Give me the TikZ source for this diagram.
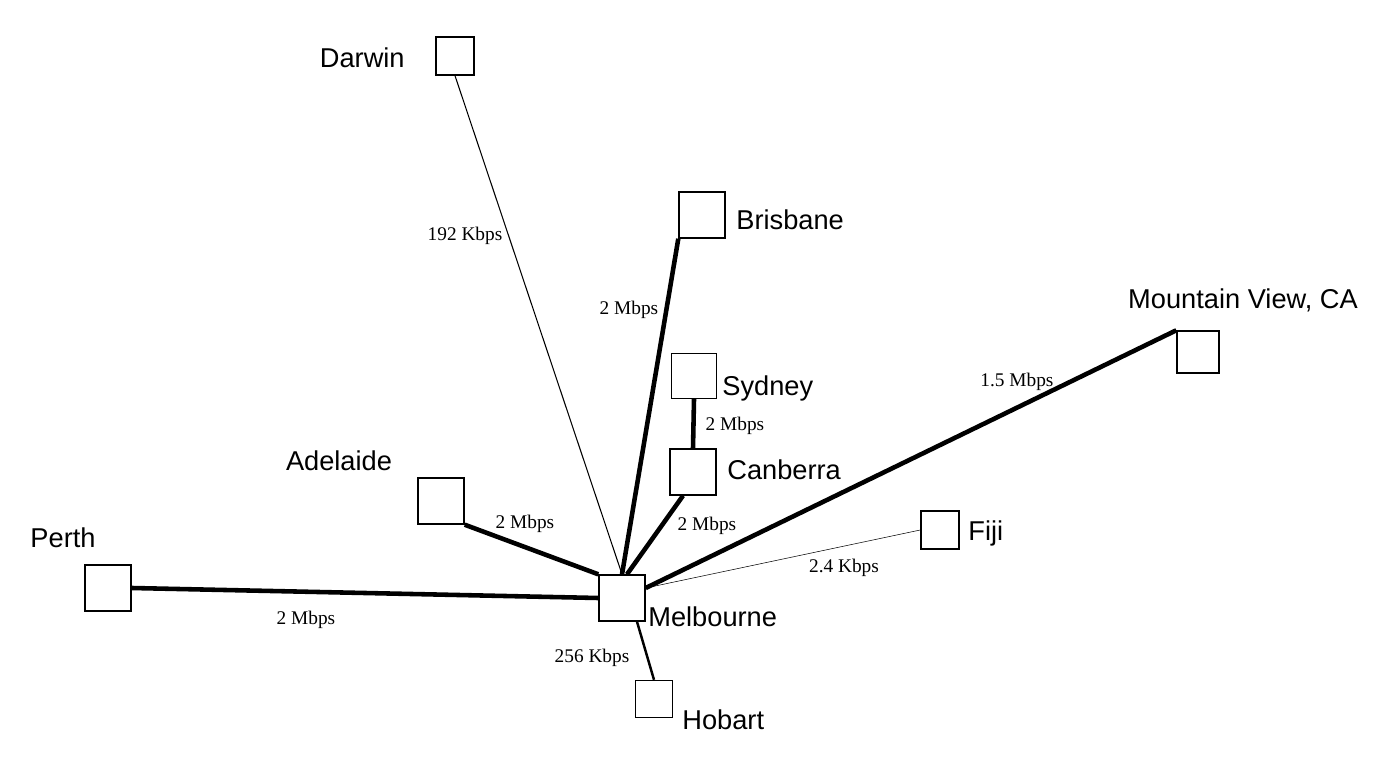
\documentclass[tikz,border=0pt]{standalone}
\usepackage{fontspec}
\setmainfont{Liberation Serif}
\newfontfamily\citysf{Liberation Sans}
\usetikzlibrary{positioning}
\begin{document}
\begin{tikzpicture}[
  x=0.02cm, y=-0.02cm,
  site/.style={draw, thick, rectangle, minimum size=#1*0.02cm, inner sep=0pt},
  city/.style={font=\citysf\fontsize{15.5}{17}\selectfont, inner sep=0pt},
  rate/.style={font=\fontsize{11}{13}\selectfont, inner sep=1pt},
  fat/.style={line width=2.6pt},
  mid/.style={line width=1.4pt},
  slim/.style={line width=0.6pt},
  hair/.style={line width=0.3pt}
]
\useasboundingbox (0,0) rectangle (1400,763);

% sites
\node[site=38] (darwin)   at (455,56)  {};
\node[site=46] (brisbane) at (702,215) {};
\node[site=42] (mview)    at (1198,352) {};
\node[site=45] (sydney)   at (694,376) {};
\node[site=46] (canberra) at (693,472) {};
\node[site=46] (adelaide) at (441,501) {};
\node[site=38] (fiji)     at (940,530) {};
\node[site=46] (perth)    at (108,588) {};
\node[site=46] (melb)     at (622,598) {};
\node[site=37] (hobart)   at (654,699) {};

% names
\node[city, anchor=east] at (405,58) {Darwin};
\node[city, anchor=west] at (736,220) {Brisbane};
\node[city] at (1243,300) {Mountain View, CA};
\node[city, anchor=west] at (722,388) {Sydney};
\node[city, anchor=west] at (727,470) {Canberra};
\node[city] at (339,461) {Adelaide};
\node[city, anchor=west] at (968,533) {Fiji};
\node[city] at (63,538) {Perth};
\node[city, anchor=west] at (648,617) {Melbourne};
\node[city, anchor=west] at (682,720) {Hobart};

% links
\draw[slim] (darwin.south) -- (melb.north);
\draw[fat] (brisbane.south west) -- (melb.north);
\draw[fat] (sydney.south) -- (canberra.north);
\draw[fat] (canberra.south) ++(-0.2cm,0) -- ([xshift=0.1cm]melb.north);
\draw[fat] (adelaide.south east) -- (melb.north west);
\draw[fat] (perth.east) -- (melb.west);
\draw[fat] (mview.north west) -- ([yshift=0.2cm]melb.east);
\draw[hair] (fiji.west) -- ([yshift=0.2cm]melb.east);
\draw[mid] (hobart.north) -- ([xshift=0.3cm]melb.south);

% rates
\node[rate] at (465,236) {192 Kbps};
\node[rate] at (629,310) {2 Mbps};
\node[rate] at (735,426) {2 Mbps};
\node[rate] at (1017,382) {1.5 Mbps};
\node[rate] at (525,524) {2 Mbps};
\node[rate] at (707,526) {2 Mbps};
\node[rate] at (844,568) {2.4 Kbps};
\node[rate] at (306,620) {2 Mbps};
\node[rate] at (592,658) {256 Kbps};
\end{tikzpicture}
\end{document}
